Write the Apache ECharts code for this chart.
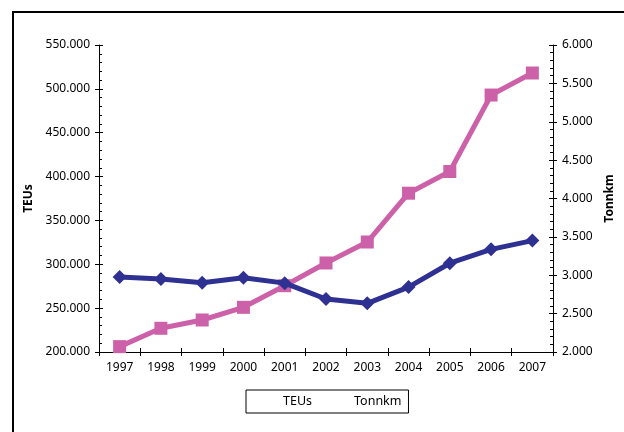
<!DOCTYPE html>
<html>
<head>
<meta charset="utf-8">
<script src="https://cdn.jsdelivr.net/npm/echarts@6/dist/echarts.min.js"></script>
<style>
  html, body { margin: 0; padding: 0; background: #fff; }
  #chart { width: 624px; height: 432px; }
</style>
</head>
<body>
<div id="chart"></div>
<script>
// Years on the category axis
const years = ['1997', '1998', '1999', '2000', '2001', '2002', '2003', '2004', '2005', '2006', '2007'];
// Container volume (left axis)
const teus = [285600, 283200, 279000, 284700, 278500, 260400, 255500, 274000, 301200, 317000, 327000];
// Tonne-kilometres (right axis)
const tonnkm = [2070, 2309, 2417, 2582, 2864, 3160, 3433, 4069, 4352, 5348, 5635];
const seriesNames = ['TEUs', 'Tonnkm'];

const FONT = 'Noto Sans';
const BLUE = '#2e3192';
const PINK = '#cc61a9';

// Norwegian-style thousands separator: 550.000
function fmt(v) {
  return String(Math.round(v)).replace(/\B(?=(\d{3})+(?!\d))/g, '.');
}

const leftScale = { min: 200000, max: 550000, interval: 50000 };
const rightScale = { min: 2000, max: 6000, interval: 500 };

const chart = echarts.init(document.getElementById('chart'), null, { renderer: 'canvas' });

const labelStyle = { color: '#000', fontFamily: FONT, fontSize: 12 };

chart.setOption({
  animation: false,
  backgroundColor: '#fff',
  textStyle: { fontFamily: FONT },
  graphic: [{
    type: 'rect',
    shape: { x: 13, y: 12, width: 700, height: 500 },
    style: { fill: 'none', stroke: '#000', lineWidth: 2 },
    silent: true
  }],
  legend: {
    data: seriesNames,
    left: 246,
    top: 390,
    orient: 'horizontal',
    icon: 'none',
    itemWidth: 25,
    itemHeight: 10,
    itemGap: 12,
    padding: [5, 7, 5, 7],
    borderColor: '#000',
    borderWidth: 1,
    textStyle: { color: '#000', fontFamily: FONT, fontSize: 12.5 }
  },
  grid: { left: 99, right: 71, top: 45, bottom: 80 },
  xAxis: [{
    type: 'category',
    data: years,
    boundaryGap: true,
    axisLine: { lineStyle: { color: '#000', width: 1 } },
    axisTick: { show: true, alignWithLabel: false, length: 4, lineStyle: { color: '#000' } },
    axisLabel: Object.assign({ margin: 10 }, labelStyle),
    splitLine: { show: false }
  }, {
    type: 'category',
    data: years,
    position: 'bottom',
    boundaryGap: true,
    axisLine: { show: false },
    axisTick: { show: true, inside: true, length: 4, lineStyle: { color: '#000' } },
    axisLabel: { show: false },
    splitLine: { show: false }
  }],
  yAxis: [{
    type: 'value',
    position: 'left',
    min: leftScale.min, max: leftScale.max, interval: leftScale.interval,
    name: 'TEUs',
    nameLocation: 'middle',
    nameRotate: 90,
    nameGap: 64,
    nameTextStyle: { color: '#000', fontFamily: FONT, fontSize: 12, fontWeight: 'bold' },
    axisLine: { show: true, lineStyle: { color: '#000', width: 1 } },
    axisTick: { show: true, length: 4, lineStyle: { color: '#000' } },
    axisLabel: Object.assign({ margin: 9, formatter: fmt }, labelStyle),
    splitLine: { show: false }
  }, {
    type: 'value',
    position: 'right',
    min: rightScale.min, max: rightScale.max, interval: rightScale.interval,
    name: 'Tonnkm',
    nameLocation: 'middle',
    nameRotate: 90,
    nameGap: 50,
    nameTextStyle: { color: '#000', fontFamily: FONT, fontSize: 12, fontWeight: 'bold' },
    axisLine: { show: true, lineStyle: { color: '#000', width: 1 } },
    axisTick: { show: true, length: 4, lineStyle: { color: '#000' } },
    axisLabel: Object.assign({ margin: 9, formatter: fmt }, labelStyle),
    splitLine: { show: false }
  }, {
    // inner half of the crossing ticks plus minor ticks, left side
    type: 'value',
    position: 'left',
    min: leftScale.min, max: leftScale.max, interval: leftScale.interval,
    axisLine: { show: false },
    axisTick: { show: true, inside: true, length: 4, lineStyle: { color: '#000' } },
    minorTick: { show: true, splitNumber: 5, length: 3, lineStyle: { color: '#000' } },
    axisLabel: { show: false },
    splitLine: { show: false }
  }, {
    // inner half of the crossing ticks plus minor ticks, right side
    type: 'value',
    position: 'right',
    min: rightScale.min, max: rightScale.max, interval: rightScale.interval,
    axisLine: { show: false },
    axisTick: { show: true, inside: true, length: 4, lineStyle: { color: '#000' } },
    minorTick: { show: true, splitNumber: 5, length: 3, lineStyle: { color: '#000' } },
    axisLabel: { show: false },
    splitLine: { show: false }
  }],
  series: [{
    name: seriesNames[1],
    type: 'line',
    yAxisIndex: 1,
    data: tonnkm,
    symbol: 'rect',
    symbolSize: 13,
    lineStyle: { color: PINK, width: 5 },
    itemStyle: { color: PINK },
    z: 2
  }, {
    name: seriesNames[0],
    type: 'line',
    yAxisIndex: 0,
    data: teus,
    symbol: 'diamond',
    symbolSize: [14, 14],
    lineStyle: { color: BLUE, width: 5 },
    itemStyle: { color: BLUE },
    z: 3
  }]
});
</script>
</body>
</html>
